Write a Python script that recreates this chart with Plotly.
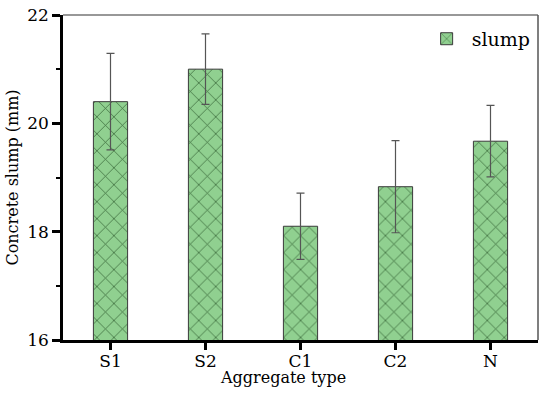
import plotly.graph_objects as go

categories = ["S1", "S2", "C1", "C2", "N"]
slump = [20.40, 21.00, 18.10, 18.83, 19.67]
slump_err = [0.89, 0.65, 0.61, 0.85, 0.66]
y_ticks = [16, 18, 20, 22]

FONT = "DejaVu Serif"

fig = go.Figure()
fig.add_trace(go.Bar(
    x=categories, y=slump, name="slump", width=0.36,
    marker=dict(
        color="#90d090",
        line=dict(color="#3a3a3a", width=1),
        pattern=dict(shape="x", fgcolor="#2e5a2e", bgcolor="#90d090",
                     size=12, solidity=0.12, fgopacity=0.9),
    ),
    error_y=dict(type="data", array=slump_err, visible=True,
                 color="#555555", thickness=1.2, width=4),
    showlegend=True,
))

fig.update_layout(
    width=550, height=395,
    margin=dict(l=63, r=12, t=15, b=55, autoexpand=False),
    paper_bgcolor="white", plot_bgcolor="white",
    font=dict(family=FONT, size=17, color="black"),
    showlegend=True,
    legend=dict(x=0.995, xanchor="right", y=0.985, yanchor="top",
                bgcolor="rgba(0,0,0,0)", font=dict(size=19, family=FONT),
                itemwidth=40),
)
fig.update_xaxes(
    type="category", range=[-0.5, 4.5], automargin=False,
    showline=True, linecolor="black", linewidth=2.5,
    ticks="outside", ticklen=7, tickwidth=2.5, tickcolor="black",
    ticklabelstandoff=-3,
    tickfont=dict(size=17, family=FONT), showgrid=False, zeroline=False,
)
fig.update_yaxes(
    range=[16, 22], tickvals=y_ticks, automargin=False,
    ticklabeloverflow="allow",
    showline=True, linecolor="black", linewidth=2.5,
    ticks="outside", ticklen=8, tickwidth=2.5, tickcolor="black",
    minor=dict(dtick=1, ticks="outside", ticklen=4, tickwidth=2, tickcolor="black"),
    tickfont=dict(size=17, family=FONT), showgrid=False, zeroline=False,
    title=dict(text="Concrete slump (mm)", font=dict(size=16, family=FONT), standoff=5),
)
# top and right frame lines
fig.add_shape(type="line", xref="paper", yref="paper", x0=0, x1=1, y0=1, y1=1,
              line=dict(color="#333333", width=1.2))
fig.add_shape(type="line", xref="paper", yref="paper", x0=1, x1=1, y0=0, y1=1,
              line=dict(color="#555555", width=1.5))
fig.add_annotation(text="Aggregate type", xref="paper", yref="paper",
                   x=0.463, y=0, yanchor="top", xanchor="center", yshift=-26,
                   showarrow=False, font=dict(size=16, family=FONT))

fig.write_html("out.html", config={"displayModeBar": False},
               post_script="document.body.style.margin='0';")
